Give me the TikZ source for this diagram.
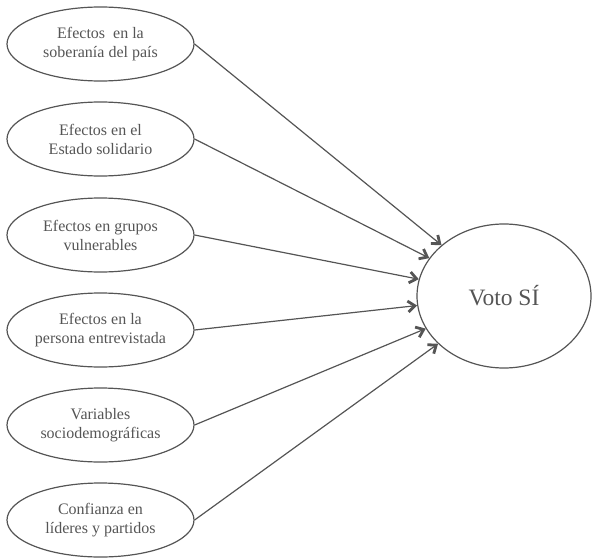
\documentclass[tikz,border=0pt]{standalone}
\usepackage{fontspec}
\setmainfont{Liberation Serif}
\usetikzlibrary{shapes.geometric,arrows.meta}
\definecolor{ink}{HTML}{555555}
\begin{document}
\begin{tikzpicture}[x=1pt,y=-1pt,
  cause/.style={ellipse,draw=ink,line width=1.2pt,minimum width=187pt,minimum height=74pt,inner sep=0pt,
    align=center,text=ink,font=\fontsize{16}{19}\selectfont},
  target/.style={ellipse,draw=ink,line width=1.2pt,minimum width=174pt,minimum height=144pt,inner sep=0pt,
    text=ink,font=\fontsize{23.5}{27}\selectfont},
  link/.style={draw=ink,line width=1.2pt,-{Straight Barb[length=7pt,width=11pt,line width=2.8pt]}}]
\useasboundingbox (0,0) rectangle (593,559);
\node[cause] (a) at (100.5,44) {Efectos\ \ en la\\soberanía del país};
\node[cause] (b) at (100.5,139) {Efectos en el\\Estado solidario};
\node[cause] (c) at (100.5,235) {Efectos en grupos\\vulnerables};
\node[cause] (d) at (100.5,330) {Efectos en la\\persona entrevistada};
\node[cause] (e) at (100.5,425) {Variables\\sociodemográficas};
\node[cause] (f) at (100.5,520) {Confianza en\\líderes y partidos};
\node[target] (v) at (504,296) {Voto SÍ};
\foreach \n in {a,b,c,d,e,f}
  \draw[link] (\n.east) -- (v);
\end{tikzpicture}
\end{document}
